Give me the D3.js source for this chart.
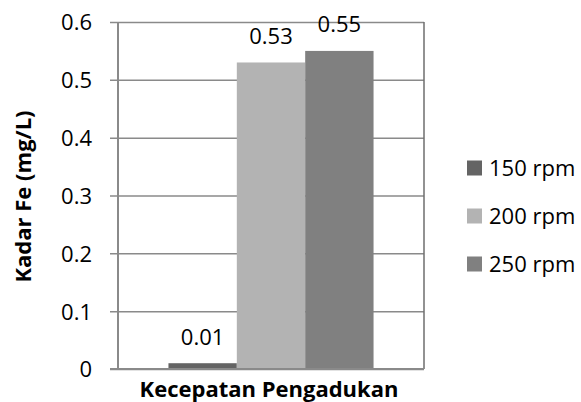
<!DOCTYPE html>
<html>
<head>
<meta charset="utf-8">
<script src="https://cdn.jsdelivr.net/npm/d3@7"></script>
<style>
  html, body { margin: 0; padding: 0; background: #fff; }
  svg { display: block; }
</style>
</head>
<body>
<script>
// Chart data
const category = ["Kecepatan Pengadukan"];
const seriesNames = ["150 rpm", "200 rpm", "250 rpm"];
const seriesValues = [0.01, 0.53, 0.55];
const seriesColors = ["#646464", "#b3b3b3", "#808080"];
const yTicks = [0, 0.1, 0.2, 0.3, 0.4, 0.5, 0.6];
const yTitle = "Kadar Fe (mg/L)";

const W = 581, H = 402;
const plot = { left: 118, right: 424, top: 22, bottom: 369 };
const font = "'Open Sans', 'Noto Sans', sans-serif";

const svg = d3.select("body").append("svg")
  .attr("width", W).attr("height", H);

const y = d3.scaleLinear().domain([0, 0.6]).range([plot.bottom, plot.top]);
const x0 = d3.scaleBand().domain(category).range([plot.left, plot.right])
  .paddingInner(0).paddingOuter(0.246);
const x1 = d3.scaleBand().domain(seriesNames).range([0, x0.bandwidth()]).padding(0);

// Gridlines with outside tick marks and tick labels
const yAxis = d3.axisLeft(y)
  .tickValues(yTicks)
  .tickFormat(d => d === 0 ? "0" : d3.format(".1f")(d))
  .tickSize(-(plot.right - plot.left + 8))
  .tickSizeOuter(0)
  .tickPadding(18);

const gy = svg.append("g")
  .attr("transform", `translate(${plot.left - 8},0)`)
  .call(yAxis);
gy.select(".domain").remove();
gy.selectAll(".tick line")
  .attr("stroke", "#8a8a8a")
  .attr("stroke-width", 1.5);
gy.selectAll(".tick text")
  .attr("fill", "#000")
  .style("font-family", font)
  .style("font-size", "22px")
  .attr("dy", "0.357em");

// Plot frame: left axis and right border
svg.append("line")
  .attr("x1", plot.left).attr("x2", plot.left)
  .attr("y1", plot.top).attr("y2", plot.bottom)
  .attr("stroke", "#8a8a8a").attr("stroke-width", 2);
svg.append("line")
  .attr("x1", plot.right).attr("x2", plot.right)
  .attr("y1", plot.top).attr("y2", plot.bottom)
  .attr("stroke", "#6e6e6e").attr("stroke-width", 1.5);

// Bars
const barData = seriesNames.map((s, i) => ({ cat: category[0], name: s, value: seriesValues[i], color: seriesColors[i] }));
const bars = svg.append("g");
bars.selectAll("rect")
  .data(barData)
  .join("rect")
  .attr("x", d => x0(d.cat) + x1(d.name))
  .attr("width", x1.bandwidth())
  .attr("y", d => y(d.value))
  .attr("height", d => y(0) - y(d.value))
  .attr("fill", d => d.color);

// Baseline
svg.append("line")
  .attr("x1", plot.left - 8).attr("x2", plot.right)
  .attr("y1", plot.bottom).attr("y2", plot.bottom)
  .attr("stroke", "#8a8a8a").attr("stroke-width", 2);

// Value labels
svg.append("g").selectAll("text")
  .data(barData)
  .join("text")
  .attr("x", d => x0(d.cat) + x1(d.name) + x1.bandwidth() / 2)
  .attr("y", d => y(d.value) - 18.5)
  .attr("text-anchor", "middle")
  .style("font-family", font)
  .style("font-size", "22px")
  .attr("fill", "#000")
  .text(d => d3.format(".2f")(d.value));

// Axis titles
svg.append("text")
  .attr("x", x0(category[0]) + x0.bandwidth() / 2 - 2)
  .attr("y", 397)
  .attr("text-anchor", "middle")
  .style("font-family", font)
  .style("font-size", "22px")
  .style("font-weight", "bold")
  .attr("fill", "#000")
  .text(category[0]);

svg.append("text")
  .attr("transform", "translate(31,196.5) rotate(-90)")
  .attr("text-anchor", "middle")
  .style("font-family", font)
  .style("font-size", "22px")
  .style("font-weight", "bold")
  .attr("fill", "#000")
  .text(yTitle);

// Legend
const legend = svg.append("g");
const legendItems = legend.selectAll("g")
  .data(barData)
  .join("g")
  .attr("transform", (d, i) => `translate(467,${168 + i * 48})`);
legendItems.append("rect")
  .attr("x", 0).attr("y", -7.5)
  .attr("width", 15).attr("height", 15)
  .attr("fill", d => d.color);
legendItems.append("text")
  .attr("x", 22).attr("y", 0)
  .attr("dy", "0.357em")
  .style("font-family", font)
  .style("font-size", "22px")
  .attr("fill", "#000")
  .text(d => d.name);
</script>
</body>
</html>
